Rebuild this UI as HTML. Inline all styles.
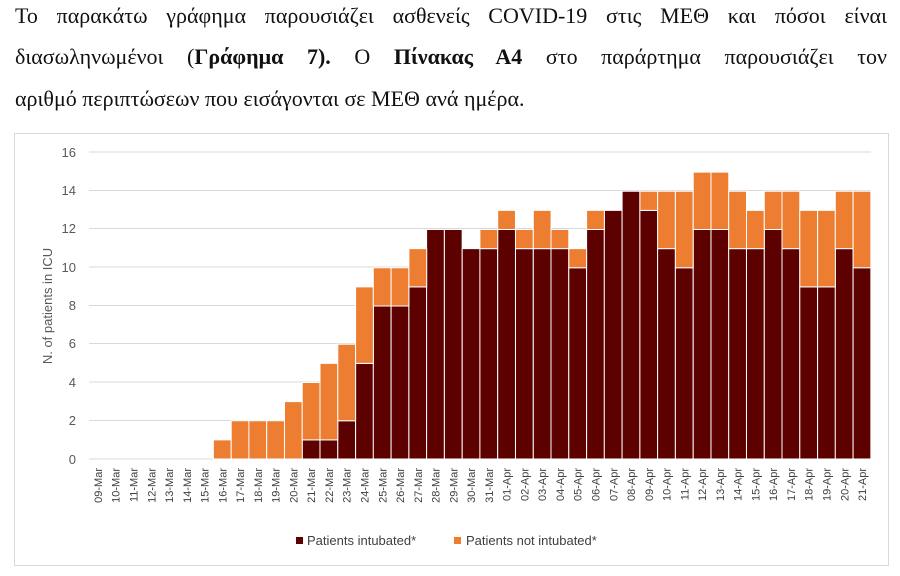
<!DOCTYPE html>
<html><head><meta charset="utf-8"><style>
body{margin:0;width:900px;height:576px;background:#fff;position:relative;overflow:hidden}
.t{position:absolute;left:15px;width:872px;font-family:"Liberation Serif",serif;font-size:22px;color:#111;white-space:nowrap}
.j{text-align:justify;text-align-last:justify;white-space:normal}
svg{position:absolute;left:0;top:0}
</style></head><body>
<div class="t j" style="top:3px">Το παρακάτω γράφημα παρουσιάζει ασθενείς COVID-19 στις ΜΕΘ και πόσοι είναι</div>
<div class="t j" style="top:44px">διασωληνωμένοι (<b>Γράφημα 7).</b> Ο <b>Πίνακας Α4</b> στο παράρτημα παρουσιάζει τον</div>
<div class="t" style="top:86px">αριθμό περιπτώσεων που εισάγονται σε ΜΕΘ ανά ημέρα.</div>
<svg width="900" height="576" font-family="Liberation Sans, sans-serif">
<rect x="14.5" y="133.5" width="874" height="432" fill="none" stroke="#d9d9d9"/>
<g stroke="#d9d9d9" stroke-width="1">
<line x1="89" x2="871" y1="152" y2="152"/><line x1="89" x2="871" y1="190.5" y2="190.5"/>
<line x1="89" x2="871" y1="228.5" y2="228.5"/><line x1="89" x2="871" y1="267" y2="267"/>
<line x1="89" x2="871" y1="305.5" y2="305.5"/><line x1="89" x2="871" y1="343.5" y2="343.5"/>
<line x1="89" x2="871" y1="382" y2="382"/><line x1="89" x2="871" y1="420.5" y2="420.5"/>
<line x1="89" x2="871" y1="459" y2="459"/>
</g>
<g font-size="13" fill="#595959" text-anchor="end">
<text x="76" y="157">16</text><text x="76" y="195">14</text><text x="76" y="233">12</text>
<text x="76" y="272">10</text><text x="76" y="310">8</text><text x="76" y="348">6</text>
<text x="76" y="387">4</text><text x="76" y="425">2</text><text x="76" y="464">0</text>
</g>
<text transform="translate(52,306) rotate(-90)" font-size="13" fill="#595959" text-anchor="middle">N. of patients in ICU</text>
<g transform="translate(0,459) scale(1,-19.125)" stroke="#fff" stroke-width="1">
<g fill="#5C0000">
<rect vector-effect="non-scaling-stroke" x="302.2" y="0" width="17.77" height="1"/>
<rect vector-effect="non-scaling-stroke" x="320.0" y="0" width="17.77" height="1"/>
<rect vector-effect="non-scaling-stroke" x="337.8" y="0" width="17.77" height="2"/>
<rect vector-effect="non-scaling-stroke" x="355.6" y="0" width="17.77" height="5"/>
<rect vector-effect="non-scaling-stroke" x="373.3" y="0" width="17.77" height="8"/>
<rect vector-effect="non-scaling-stroke" x="391.1" y="0" width="17.77" height="8"/>
<rect vector-effect="non-scaling-stroke" x="408.9" y="0" width="17.77" height="9"/>
<rect vector-effect="non-scaling-stroke" x="426.6" y="0" width="17.77" height="12"/>
<rect vector-effect="non-scaling-stroke" x="444.4" y="0" width="17.77" height="12"/>
<rect vector-effect="non-scaling-stroke" x="462.2" y="0" width="17.77" height="11"/>
<rect vector-effect="non-scaling-stroke" x="479.9" y="0" width="17.77" height="11"/>
<rect vector-effect="non-scaling-stroke" x="497.7" y="0" width="17.77" height="12"/>
<rect vector-effect="non-scaling-stroke" x="515.5" y="0" width="17.77" height="11"/>
<rect vector-effect="non-scaling-stroke" x="533.3" y="0" width="17.77" height="11"/>
<rect vector-effect="non-scaling-stroke" x="551.0" y="0" width="17.77" height="11"/>
<rect vector-effect="non-scaling-stroke" x="568.8" y="0" width="17.77" height="10"/>
<rect vector-effect="non-scaling-stroke" x="586.6" y="0" width="17.77" height="12"/>
<rect vector-effect="non-scaling-stroke" x="604.3" y="0" width="17.77" height="13"/>
<rect vector-effect="non-scaling-stroke" x="622.1" y="0" width="17.77" height="14"/>
<rect vector-effect="non-scaling-stroke" x="639.9" y="0" width="17.77" height="13"/>
<rect vector-effect="non-scaling-stroke" x="657.6" y="0" width="17.77" height="11"/>
<rect vector-effect="non-scaling-stroke" x="675.4" y="0" width="17.77" height="10"/>
<rect vector-effect="non-scaling-stroke" x="693.2" y="0" width="17.77" height="12"/>
<rect vector-effect="non-scaling-stroke" x="711.0" y="0" width="17.77" height="12"/>
<rect vector-effect="non-scaling-stroke" x="728.7" y="0" width="17.77" height="11"/>
<rect vector-effect="non-scaling-stroke" x="746.5" y="0" width="17.77" height="11"/>
<rect vector-effect="non-scaling-stroke" x="764.3" y="0" width="17.77" height="12"/>
<rect vector-effect="non-scaling-stroke" x="782.0" y="0" width="17.77" height="11"/>
<rect vector-effect="non-scaling-stroke" x="799.8" y="0" width="17.77" height="9"/>
<rect vector-effect="non-scaling-stroke" x="817.6" y="0" width="17.77" height="9"/>
<rect vector-effect="non-scaling-stroke" x="835.3" y="0" width="17.77" height="11"/>
<rect vector-effect="non-scaling-stroke" x="853.1" y="0" width="17.77" height="10"/>
</g>
<g fill="#ED7D31">
<rect vector-effect="non-scaling-stroke" x="213.4" y="0" width="17.77" height="1"/>
<rect vector-effect="non-scaling-stroke" x="231.2" y="0" width="17.77" height="2"/>
<rect vector-effect="non-scaling-stroke" x="248.9" y="0" width="17.77" height="2"/>
<rect vector-effect="non-scaling-stroke" x="266.7" y="0" width="17.77" height="2"/>
<rect vector-effect="non-scaling-stroke" x="284.5" y="0" width="17.77" height="3"/>
<rect vector-effect="non-scaling-stroke" x="302.2" y="1" width="17.77" height="3"/>
<rect vector-effect="non-scaling-stroke" x="320.0" y="1" width="17.77" height="4"/>
<rect vector-effect="non-scaling-stroke" x="337.8" y="2" width="17.77" height="4"/>
<rect vector-effect="non-scaling-stroke" x="355.6" y="5" width="17.77" height="4"/>
<rect vector-effect="non-scaling-stroke" x="373.3" y="8" width="17.77" height="2"/>
<rect vector-effect="non-scaling-stroke" x="391.1" y="8" width="17.77" height="2"/>
<rect vector-effect="non-scaling-stroke" x="408.9" y="9" width="17.77" height="2"/>
<rect vector-effect="non-scaling-stroke" x="479.9" y="11" width="17.77" height="1"/>
<rect vector-effect="non-scaling-stroke" x="497.7" y="12" width="17.77" height="1"/>
<rect vector-effect="non-scaling-stroke" x="515.5" y="11" width="17.77" height="1"/>
<rect vector-effect="non-scaling-stroke" x="533.3" y="11" width="17.77" height="2"/>
<rect vector-effect="non-scaling-stroke" x="551.0" y="11" width="17.77" height="1"/>
<rect vector-effect="non-scaling-stroke" x="568.8" y="10" width="17.77" height="1"/>
<rect vector-effect="non-scaling-stroke" x="586.6" y="12" width="17.77" height="1"/>
<rect vector-effect="non-scaling-stroke" x="639.9" y="13" width="17.77" height="1"/>
<rect vector-effect="non-scaling-stroke" x="657.6" y="11" width="17.77" height="3"/>
<rect vector-effect="non-scaling-stroke" x="675.4" y="10" width="17.77" height="4"/>
<rect vector-effect="non-scaling-stroke" x="693.2" y="12" width="17.77" height="3"/>
<rect vector-effect="non-scaling-stroke" x="711.0" y="12" width="17.77" height="3"/>
<rect vector-effect="non-scaling-stroke" x="728.7" y="11" width="17.77" height="3"/>
<rect vector-effect="non-scaling-stroke" x="746.5" y="11" width="17.77" height="2"/>
<rect vector-effect="non-scaling-stroke" x="764.3" y="12" width="17.77" height="2"/>
<rect vector-effect="non-scaling-stroke" x="782.0" y="11" width="17.77" height="3"/>
<rect vector-effect="non-scaling-stroke" x="799.8" y="9" width="17.77" height="4"/>
<rect vector-effect="non-scaling-stroke" x="817.6" y="9" width="17.77" height="4"/>
<rect vector-effect="non-scaling-stroke" x="835.3" y="11" width="17.77" height="3"/>
<rect vector-effect="non-scaling-stroke" x="853.1" y="10" width="17.77" height="4"/>
</g>
</g>
<g font-size="11" fill="#404040" text-anchor="end">
<text transform="translate(102,468) rotate(-90)">09-Mar</text>
<text transform="translate(119.7,468) rotate(-90)">10-Mar</text>
<text transform="translate(137.5,468) rotate(-90)">11-Mar</text>
<text transform="translate(155.3,468) rotate(-90)">12-Mar</text>
<text transform="translate(173,468) rotate(-90)">13-Mar</text>
<text transform="translate(190.8,468) rotate(-90)">14-Mar</text>
<text transform="translate(208.6,468) rotate(-90)">15-Mar</text>
<text transform="translate(226.4,468) rotate(-90)">16-Mar</text>
<text transform="translate(244.1,468) rotate(-90)">17-Mar</text>
<text transform="translate(261.9,468) rotate(-90)">18-Mar</text>
<text transform="translate(279.7,468) rotate(-90)">19-Mar</text>
<text transform="translate(297.4,468) rotate(-90)">20-Mar</text>
<text transform="translate(315.2,468) rotate(-90)">21-Mar</text>
<text transform="translate(333,468) rotate(-90)">22-Mar</text>
<text transform="translate(350.7,468) rotate(-90)">23-Mar</text>
<text transform="translate(368.5,468) rotate(-90)">24-Mar</text>
<text transform="translate(386.3,468) rotate(-90)">25-Mar</text>
<text transform="translate(404,468) rotate(-90)">26-Mar</text>
<text transform="translate(421.8,468) rotate(-90)">27-Mar</text>
<text transform="translate(439.6,468) rotate(-90)">28-Mar</text>
<text transform="translate(457.4,468) rotate(-90)">29-Mar</text>
<text transform="translate(475.1,468) rotate(-90)">30-Mar</text>
<text transform="translate(492.9,468) rotate(-90)">31-Mar</text>
<text transform="translate(510.7,468) rotate(-90)">01-Apr</text>
<text transform="translate(528.4,468) rotate(-90)">02-Apr</text>
<text transform="translate(546.2,468) rotate(-90)">03-Apr</text>
<text transform="translate(564,468) rotate(-90)">04-Apr</text>
<text transform="translate(581.7,468) rotate(-90)">05-Apr</text>
<text transform="translate(599.5,468) rotate(-90)">06-Apr</text>
<text transform="translate(617.3,468) rotate(-90)">07-Apr</text>
<text transform="translate(635,468) rotate(-90)">08-Apr</text>
<text transform="translate(652.8,468) rotate(-90)">09-Apr</text>
<text transform="translate(670.6,468) rotate(-90)">10-Apr</text>
<text transform="translate(688.3,468) rotate(-90)">11-Apr</text>
<text transform="translate(706.1,468) rotate(-90)">12-Apr</text>
<text transform="translate(723.9,468) rotate(-90)">13-Apr</text>
<text transform="translate(741.7,468) rotate(-90)">14-Apr</text>
<text transform="translate(759.4,468) rotate(-90)">15-Apr</text>
<text transform="translate(777.2,468) rotate(-90)">16-Apr</text>
<text transform="translate(795,468) rotate(-90)">17-Apr</text>
<text transform="translate(812.7,468) rotate(-90)">18-Apr</text>
<text transform="translate(830.5,468) rotate(-90)">19-Apr</text>
<text transform="translate(848.3,468) rotate(-90)">20-Apr</text>
<text transform="translate(866,468) rotate(-90)">21-Apr</text>
</g>
<rect x="296" y="537" width="7" height="7" fill="#5C0000"/>
<text x="307" y="545" font-size="13" fill="#404040">Patients intubated*</text>
<rect x="454" y="537" width="7" height="7" fill="#ED7D31"/>
<text x="466" y="545" font-size="13" fill="#404040">Patients not intubated*</text>
</svg>
</body></html>
